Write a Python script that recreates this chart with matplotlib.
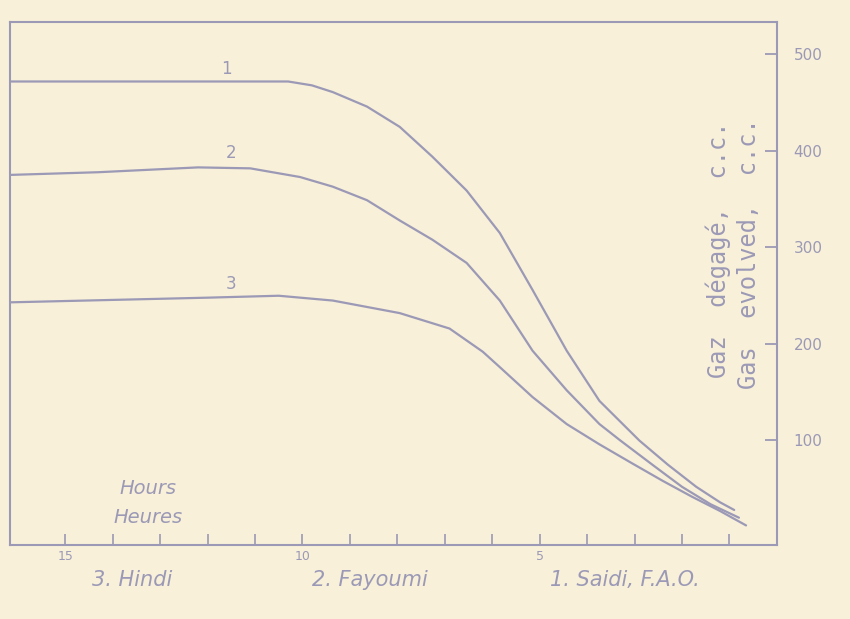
import matplotlib.pyplot as plt

# hours (x axis runs right-to-left in the scan, 0 at the right)
hours_1 = [16.3, 13.0, 10.3, 9.8, 9.36, 8.64, 7.95, 7.26, 6.54, 5.84, 5.15, 4.43, 3.74, 2.9, 2.3, 1.7, 1.2, 0.9]
gas_1 = [472, 472, 472, 468, 461, 446, 425, 394, 359, 315, 256, 193, 141, 100, 75, 52, 36, 28]

hours_2 = [16.3, 14.3, 12.2, 11.1, 10.05, 9.36, 8.64, 7.95, 7.26, 6.54, 5.84, 5.15, 4.43, 3.74, 3.3, 2.6, 2.0, 1.4, 0.8]
gas_2 = [375, 378, 383, 382, 373, 363, 349, 328, 308, 284, 245, 193, 152, 117, 100, 74, 52, 34, 20]

hours_3 = [16.3, 12.0, 10.5, 9.36, 7.95, 6.9, 6.2, 5.84, 5.15, 4.43, 3.74, 3.04, 2.4, 1.8, 1.2, 0.65]
gas_3 = [243, 248, 250, 245, 232, 216, 192, 176, 145, 117, 96, 76, 58, 42, 27, 12]

curve_labels = ['1', '2', '3']
label_pos = [(11.6, 485), (11.5, 398), (11.5, 262)]

y_ticks = [100, 200, 300, 400, 500]
x_major = [5, 10, 15]
x_minor = list(range(1, 16))

legend_texts = ['1. Saidi, F.A.O.', '2. Fayoumi', '3. Hindi']

paper = '#f8f0d9'
ink = '#9b99b6'

fig = plt.figure(figsize=(8.5, 6.19), dpi=100, facecolor=paper)
ax = fig.add_axes([0.012, 0.12, 0.902, 0.845], facecolor=paper)

for xs, ys in [(hours_1, gas_1), (hours_2, gas_2), (hours_3, gas_3)]:
    ax.plot(xs, ys, color=ink, lw=1.6, solid_capstyle='round', solid_joinstyle='round')

for lab, (x, y) in zip(curve_labels, label_pos):
    ax.text(x, y, lab, color=ink, fontsize=12, ha='center', va='center')

ax.set_xlim(16.16, 0)
ax.set_ylim(-8, 534)

for sp in ax.spines.values():
    sp.set_color(ink)
    sp.set_linewidth(1.5)

ax.yaxis.tick_right()
ax.set_yticks(y_ticks)
ax.set_yticklabels([str(v) for v in y_ticks])
ax.tick_params(axis='y', direction='in', length=9, width=1.3, colors=ink,
               labelsize=11, pad=12)

ax.set_xticks(x_major)
ax.set_xticklabels([str(v) for v in x_major])
ax.set_xticks(x_minor, minor=True)
ax.tick_params(axis='x', which='both', direction='in', length=8, width=1.2,
               colors=ink, labelsize=9, pad=4)

ax.text(0.18, 0.108, 'Hours', transform=ax.transAxes, color=ink,
        fontsize=14, style='italic', ha='center', va='center')
ax.text(0.18, 0.052, 'Heures', transform=ax.transAxes, color=ink,
        fontsize=14, style='italic', ha='center', va='center')

fig.text(0.845, 0.596, 'Gaz  dégagé,  c.c.', color=ink, fontsize=17,
         family='DejaVu Sans Mono', rotation=90, ha='center', va='center')
fig.text(0.881, 0.59, 'Gas  evolved,  c.c.', color=ink, fontsize=17,
         family='DejaVu Sans Mono', rotation=90, ha='center', va='center')

for txt, x in zip(legend_texts, [0.735, 0.435, 0.155]):
    fig.text(x, 0.063, txt, color=ink, fontsize=15, style='italic',
             ha='center', va='center')

fig.savefig('out.png', dpi=100, facecolor=paper)
